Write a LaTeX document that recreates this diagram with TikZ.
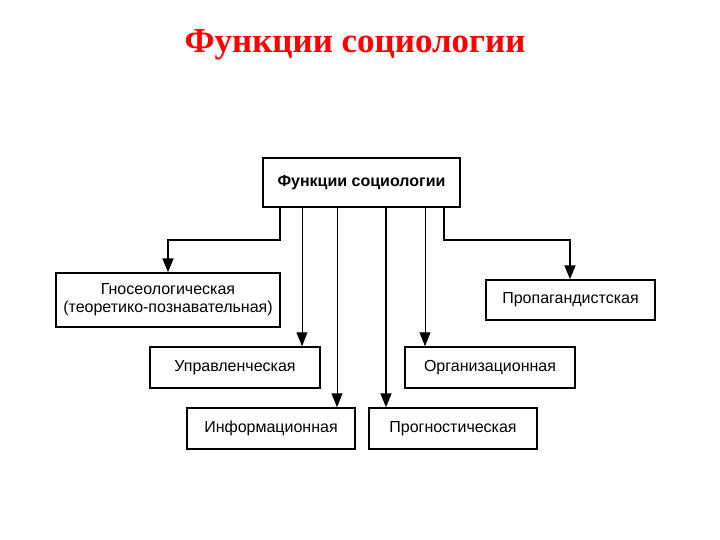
\documentclass[tikz,border=0pt]{standalone}
\usepackage{fontspec}
\setmainfont{Liberation Sans}
\newfontfamily\titlefont{Liberation Serif}
\usetikzlibrary{arrows.meta}
\begin{document}
\begin{tikzpicture}[x=1pt,y=-1pt,
  box/.style={draw,line width=1.5pt,inner sep=0pt,font=\fontsize{16}{18}\selectfont,align=center},
  conn/.style={-{Triangle[width=11pt,length=14pt]}},
  thick conn/.style={conn,line width=2pt},
  thin conn/.style={conn,line width=1pt}]
\useasboundingbox (0,0) rectangle (720,540);
\node[font=\titlefont\bfseries\fontsize{35}{40}\selectfont,text=red] (title) at (355,45) {Функции социологии};
\node[box,minimum width=197pt,minimum height=49pt,font=\bfseries\fontsize{16}{18}\selectfont] (top) at (361.5,182.5) {Функции социологии};
\node[box,minimum width=224pt,minimum height=54pt] (gno) at (168,300) {Гносеологическая\\(теоретико-познавательная)};
\node[box,minimum width=169pt,minimum height=40pt] (pro) at (570.5,300) {Пропагандистская};
\node[box,minimum width=170pt,minimum height=41pt] (upr) at (235,367.5) {Управленческая};
\node[box,minimum width=170pt,minimum height=41pt] (org) at (490,367.5) {Организационная};
\node[box,minimum width=168pt,minimum height=41pt] (inf) at (271,428.5) {Информационная};
\node[box,minimum width=168pt,minimum height=41pt] (prg) at (453,428.5) {Прогностическая};
\draw[thick conn] (top.south -| 280,0) |- (168,240) -- (gno.north -| 168,0);
\draw[thick conn] (top.south -| 444,0) |- (570,240) -- (pro.north -| 570,0);
\draw[thin conn] (top.south -| 302,0) -- (upr.north -| 302,0);
\draw[thin conn] (top.south -| 337,0) -- (inf.north -| 337,0);
\draw[thick conn] (top.south -| 386,0) -- (prg.north -| 386,0);
\draw[thin conn] (top.south -| 425,0) -- (org.north -| 425,0);
\end{tikzpicture}
\end{document}
